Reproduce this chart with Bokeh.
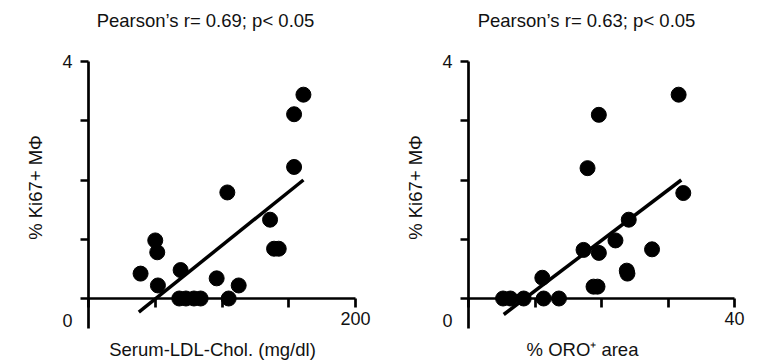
import math
from bokeh.plotting import figure
from bokeh.models import LinearAxis, FixedTicker, Label, Range1d
from bokeh.layouts import row
from bokeh.embed import file_html
from bokeh.resources import INLINE

# ---- data ----
ldl_x = [39, 50, 51.5, 52, 69, 68, 73, 79, 84, 96, 104, 105, 112.5, 136, 139, 142.5, 154, 154, 161]
ldl_y = [0.42, 0.98, 0.78, 0.22, 0.48, 0, 0, 0, 0, 0.34, 1.79, 0, 0.22, 1.33, 0.84, 0.84, 2.22, 3.11, 3.44]
ldl_fit_x = [37.7, 161]
ldl_fit_y = [-0.23, 2.0]

oro_x = [5.2, 6.3, 8.3, 11.3, 13.6, 11.1, 17.3, 19.6, 18.8, 19.4, 22.1, 23.8, 23.9, 24.1, 27.6, 32.3, 17.9, 19.6, 31.6]
oro_y = [0, 0, 0, 0, 0, 0.35, 0.82, 0.77, 0.2, 0.2, 0.98, 0.47, 0.42, 1.33, 0.83, 1.78, 2.2, 3.1, 3.44]
oro_fit_x = [5.3, 32.0]
oro_fit_y = [-0.27, 2.0]

y_ticks = [0, 1, 2, 3, 4]
y_bounds = (-0.5, 4)
ldl_ticks = [0, 50, 100, 150, 200]
oro_ticks = [0, 10, 20, 30, 40]

titles = ["Pearson\u2019s r= 0.69; p< 0.05", "Pearson\u2019s r= 0.63; p< 0.05"]
x_titles = ["Serum-LDL-Chol. (mg/dl)", "% ORO\u207a area"]
y_title = "% Ki67+ M\u03a6"

FONT = "Liberation Sans"
TXT = "#111111"

# ---- layout constants (pixels inside each figure) ----
FIG_H = 360
PX_Y_TOP = 61      # pixel row of the top y tick
PX_Y_ZERO = 298    # pixel row of y = 0
PX_X_LEFT = 88     # pixel column of x = 0


def make_panel(xs, ys, fx, fy, xticks, title, xtitle, width, px_x_right, title_dx, xlab_dx):
    ppu_y = (PX_Y_ZERO - PX_Y_TOP) / y_ticks[-1]
    ppu_x = (px_x_right - PX_X_LEFT) / (xticks[-1] - xticks[0])
    xr = Range1d(xticks[0] - PX_X_LEFT / ppu_x, xticks[0] + (width - PX_X_LEFT) / ppu_x)
    yr = Range1d(-(FIG_H - PX_Y_ZERO) / ppu_y, y_ticks[-1] + PX_Y_TOP / ppu_y)

    p = figure(width=width, height=FIG_H, x_range=xr, y_range=yr,
               output_backend="svg", toolbar_location=None,
               x_axis_location=None, y_axis_location=None, title=None,
               min_border=0, min_border_left=0, min_border_right=0,
               min_border_top=0, min_border_bottom=0)
    p.outline_line_color = None
    p.grid.visible = False
    p.background_fill_color = "white"
    p.border_fill_color = "white"

    yax = LinearAxis(ticker=FixedTicker(ticks=y_ticks), fixed_location=xticks[0],
                     bounds=y_bounds,
                     major_label_overrides={t: (str(t) if t == y_ticks[-1] else "") for t in y_ticks})
    xax = LinearAxis(ticker=FixedTicker(ticks=xticks), fixed_location=0,
                     bounds=(xticks[0], xticks[-1]),
                     major_label_overrides={t: (str(t) if t == xticks[-1] else "") for t in xticks})
    for ax in (yax, xax):
        ax.axis_line_width = 2.7
        ax.axis_line_color = "black"
        ax.major_tick_line_width = 2.7
        ax.major_tick_line_color = "black"
        ax.major_tick_in = 0
        ax.minor_tick_out = 0
        ax.minor_tick_in = 0
        ax.major_label_text_font = FONT
        ax.major_label_text_font_size = "18px"
        ax.major_label_text_color = TXT
    yax.major_tick_out = 8
    yax.major_label_standoff = 8
    xax.major_tick_out = 9
    xax.major_label_standoff = 4
    p.add_layout(yax, "left")
    p.add_layout(xax, "below")

    xmid = (xticks[0] + xticks[-1]) / 2
    common = dict(text_font=FONT, text_color=TXT, text_baseline="middle")
    # title
    p.add_layout(Label(x=xmid, y=y_ticks[-1], x_offset=title_dx, y_offset=41.5, text=title,
                       text_align="center", text_font_size="18.5px", **common))
    # origin label
    p.add_layout(Label(x=xticks[0], y=0, x_offset=-16, y_offset=-22, text="0",
                       text_align="right", text_font_size="18px", **common))
    # x axis title
    p.add_layout(Label(x=xmid, y=0, x_offset=xlab_dx, y_offset=-51, text=xtitle,
                       text_align="center", text_font_size="18.5px", **common))
    # y axis title
    p.add_layout(Label(x=xticks[0], y=0, x_offset=-53, y_offset=111, text=y_title,
                       angle=math.pi / 2, text_align="center", text_font_size="18.5px", **common))

    p.line(fx, fy, line_color="black", line_width=3.5)
    p.scatter(xs, ys, size=15, fill_color="black", line_color="black")
    return p


p1 = make_panel(ldl_x, ldl_y, ldl_fit_x, ldl_fit_y, ldl_ticks, titles[0], x_titles[0],
                380, 355, -16.5, -9.5)
p2 = make_panel(oro_x, oro_y, oro_fit_x, oro_fit_y, oro_ticks, titles[1], x_titles[1],
                381, 354, -15, -19)

layout = row(p1, p2)
open("out.html", "w").write(file_html(layout, INLINE))
